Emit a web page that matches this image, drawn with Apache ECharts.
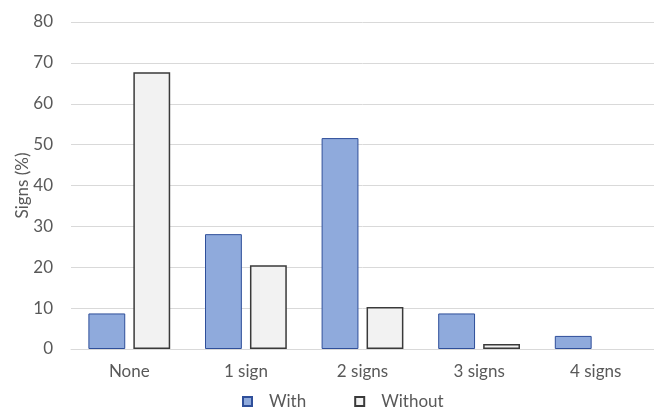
<!DOCTYPE html>
<html>
<head>
<meta charset="utf-8">
<script src="https://cdn.jsdelivr.net/npm/echarts@6/dist/echarts.min.js"></script>
<style>
  html, body { margin: 0; padding: 0; background: #fff; }
  #chart { width: 654px; height: 409px; }
</style>
</head>
<body>
<div id="chart"></div>
<script>
// Share of signs observed, grouped by number of signs
const categories = ['None', '1 sign', '2 signs', '3 signs', '4 signs'];
const withValues = [8.7, 28.1, 51.6, 8.7, 3.2];
const withoutValues = [67.7, 20.5, 10.3, 1.2, 0];
const yTicks = { min: 0, max: 80, interval: 10 };

const textColor = '#595959';
const font = 'Lato, "Open Sans", sans-serif';

// zero-height bars get no outline so they vanish into the baseline
const asBarData = (values) => values.map(v => v === 0 ? { value: v, itemStyle: { borderWidth: 0, opacity: 0 } } : v);

const chart = echarts.init(document.getElementById('chart'));
chart.setOption({
  animation: false,
  textStyle: { fontFamily: font },
  grid: { left: 71, top: 22, width: 585, bottom: 60 },
  legend: {
    top: 393,
    left: 242,
    padding: 0,
    icon: 'rect',
    itemWidth: 9,
    itemHeight: 9,
    itemGap: 48,
    textStyle: { color: textColor, fontSize: 17, fontFamily: font, padding: [0, 0, 0, 12] },
    data: ['With', 'Without']
  },
  xAxis: {
    type: 'category',
    data: categories,
    axisTick: { show: false },
    axisLine: { lineStyle: { color: '#d9d9d9' } },
    axisLabel: { color: textColor, fontSize: 17, margin: 14, fontFamily: font }
  },
  yAxis: {
    type: 'value',
    min: yTicks.min,
    max: yTicks.max,
    interval: yTicks.interval,
    name: 'Signs (%)',
    nameLocation: 'middle',
    nameGap: 40,
    nameMoveOverlap: false,
    nameTextStyle: { color: textColor, fontSize: 17, fontFamily: font },
    axisLabel: { color: textColor, fontSize: 17, margin: 18, fontFamily: font },
    splitLine: { lineStyle: { color: '#d9d9d9', width: 1 } },
    axisLine: { show: false },
    axisTick: { show: false }
  },
  series: [
    {
      name: 'With',
      type: 'bar',
      data: asBarData(withValues),
      barWidth: '31.6%',
      barGap: '22%',
      itemStyle: { color: '#8faadc', borderColor: '#2f4f9a', borderWidth: 1 }
    },
    {
      name: 'Without',
      type: 'bar',
      data: asBarData(withoutValues),
      barWidth: '31.6%',
      itemStyle: { color: '#f2f2f2', borderColor: '#3a3a3a', borderWidth: 1.5 }
    }
  ]
});
</script>
</body>
</html>
